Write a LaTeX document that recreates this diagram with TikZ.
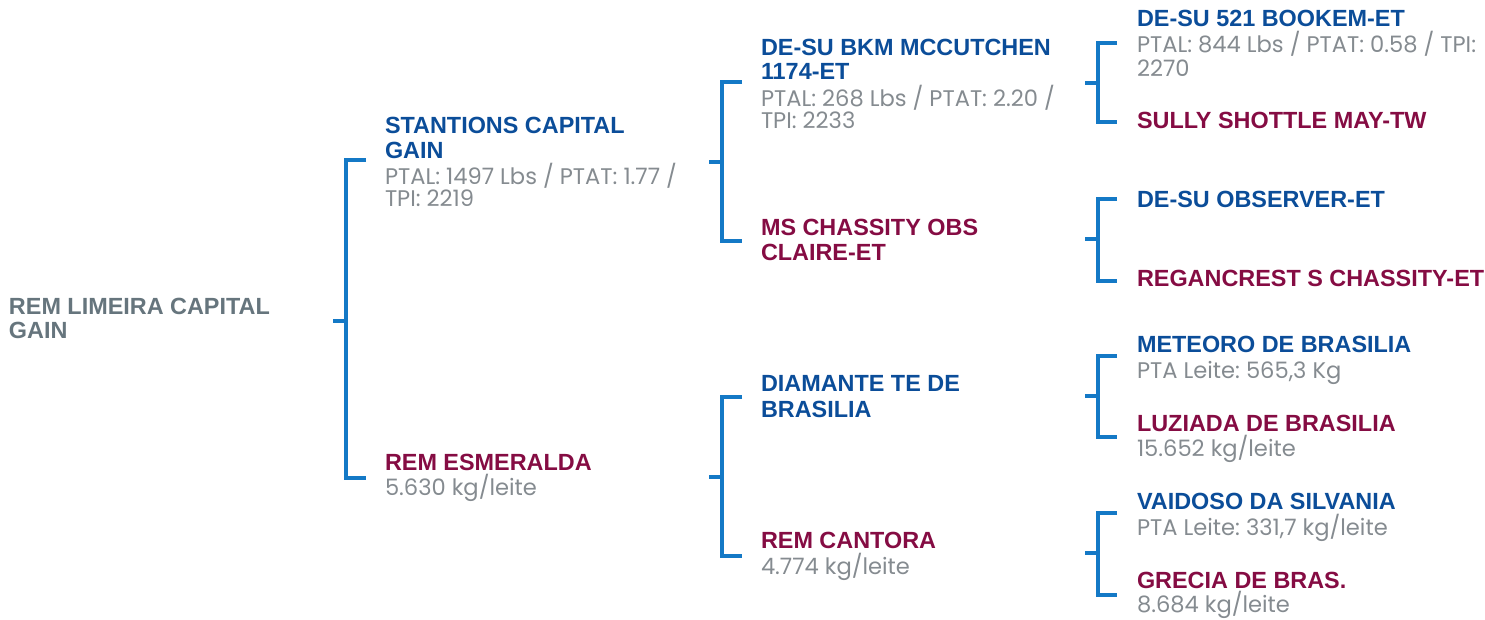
\documentclass[tikz,border=0pt]{standalone}
\usepackage{fontspec}
\setmainfont{Liberation Sans}
\newfontfamily\detfont{Poppins}
\frenchspacing
\definecolor{nblue}{HTML}{0B4D99}
\definecolor{nred}{HTML}{850C43}
\definecolor{rootgray}{HTML}{66757D}
\definecolor{detgray}{HTML}{858B90}
\definecolor{brblue}{HTML}{1479C6}
\tikzset{
  txt/.style={anchor=base west, inner sep=0pt, outer sep=0pt},
  sire/.style={txt, font=\fontsize{23.4}{26}\selectfont\bfseries, text=nblue},
  dam/.style={txt, font=\fontsize{23.4}{26}\selectfont\bfseries, text=nred},
  rootname/.style={txt, font=\fontsize{23.4}{26}\selectfont\bfseries, text=rootgray},
  det/.style={txt, font=\fontsize{22.6}{25}\detfont, text=detgray},
  br/.style={draw=brblue, line width=3.2pt, line cap=butt, line join=miter}
}
\begin{document}
\begin{tikzpicture}[x=1pt,y=-1pt]
\useasboundingbox (0,0) rectangle (1485,619);
% root
\node[rootname] (r1) at (9,314) {REM LIMEIRA CAPITAL};
\node[rootname] (r2) at (9,338.5) {GAIN};
% level 1
\node[sire] (s1) at (385,133.3) {STANTIONS CAPITAL};
\node[sire] (s2) at (385,158.3) {GAIN};
\node[det] (s3) at (385,184) {PTAL: 1497 Lbs / PTAT: 1.77 /};
\node[det] (s4) at (385,206.7) {TPI: 2219};
\node[dam] (d1) at (385,470) {REM ESMERALDA};
\node[det] (d2) at (385,495) {5.630 kg/leite};
% level 2
\node[sire] (ss1) at (761,55) {DE-SU BKM MCCUTCHEN};
\node[sire] (ss2) at (761,79.3) {1174-ET};
\node[det] (ss3) at (761,106) {PTAL: 268 Lbs / PTAT: 2.20 /};
\node[det] (ss4) at (761,128.3) {TPI: 2233};
\node[dam] (sd1) at (761,235) {MS CHASSITY OBS};
\node[dam] (sd2) at (761,260) {CLAIRE-ET};
\node[sire] (ds1) at (761,391) {DIAMANTE TE DE};
\node[sire] (ds2) at (761,417.7) {BRASILIA};
\node[dam] (dd1) at (761,548.3) {REM CANTORA};
\node[det] (dd2) at (761,574) {4.774 kg/leite};
% level 3
\node[sire] (sss1) at (1137,26.7) {DE-SU 521 BOOKEM-ET};
\node[det] (sss2) at (1137,52.7) {PTAL: 844 Lbs / PTAT: 0.58 / TPI:};
\node[det] (sss3) at (1137,76) {2270};
\node[dam] (ssd1) at (1137,128.3) {SULLY SHOTTLE MAY-TW};
\node[sire] (sds1) at (1137,207.3) {DE-SU OBSERVER-ET};
\node[dam] (sdd1) at (1137,286) {REGANCREST S CHASSITY-ET};
\node[sire] (dss1) at (1137,352.3) {METEORO DE BRASILIA};
\node[det] (dss2) at (1137,378.3) {PTA Leite: 565,3 Kg};
\node[dam] (dsd1) at (1137,431) {LUZIADA DE BRASILIA};
\node[det] (dsd2) at (1137,456.7) {15.652 kg/leite};
\node[sire] (dds1) at (1137,509.3) {VAIDOSO DA SILVANIA};
\node[det] (dds2) at (1137,535) {PTA Leite: 331,7 kg/leite};
\node[dam] (ddd1) at (1137,588.3) {GRECIA DE BRAS.};
\node[det] (ddd2) at (1137,612.7) {8.684 kg/leite};
% bracket coordinates
\coordinate (b1s) at (333,321);   \coordinate (b1t) at (366,160);  \coordinate (b1b) at (366,478);
\coordinate (b2s) at (709,162);   \coordinate (b2t) at (742,82);   \coordinate (b2b) at (742,241);
\coordinate (b3s) at (709,477);   \coordinate (b3t) at (742,397);  \coordinate (b3b) at (742,556);
\coordinate (b4s) at (1085,83);   \coordinate (b4t) at (1117,43);  \coordinate (b4b) at (1117,122);
\coordinate (b5s) at (1085,239);  \coordinate (b5t) at (1117,199); \coordinate (b5b) at (1117,281);
\coordinate (b6s) at (1085,396);  \coordinate (b6t) at (1117,356); \coordinate (b6b) at (1117,437);
\coordinate (b7s) at (1085,553);  \coordinate (b7t) at (1117,513); \coordinate (b7b) at (1117,595);
% brackets
\draw[br] (b1t) -- ++(-20,0) |- (b1b);  \draw[br] (b1s) -- ++(13,0);
\draw[br] (b2t) -- ++(-20,0) |- (b2b);  \draw[br] (b2s) -- ++(13,0);
\draw[br] (b3t) -- ++(-20,0) |- (b3b);  \draw[br] (b3s) -- ++(13,0);
\draw[br] (b4t) -- ++(-19,0) |- (b4b);  \draw[br] (b4s) -- ++(13,0);
\draw[br] (b5t) -- ++(-19,0) |- (b5b);  \draw[br] (b5s) -- ++(13,0);
\draw[br] (b6t) -- ++(-19,0) |- (b6b);  \draw[br] (b6s) -- ++(13,0);
\draw[br] (b7t) -- ++(-19,0) |- (b7b);  \draw[br] (b7s) -- ++(13,0);
\end{tikzpicture}
\end{document}
